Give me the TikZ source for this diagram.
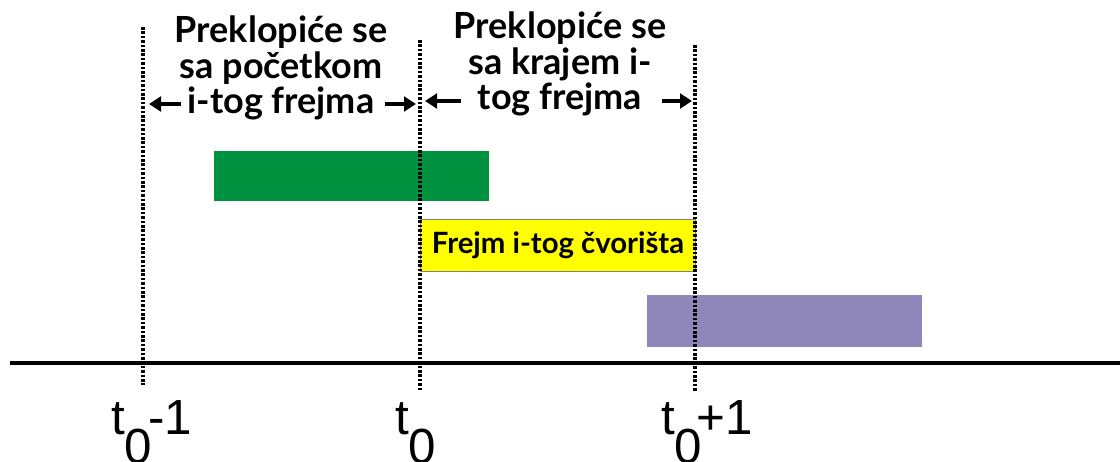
\documentclass[tikz,border=0pt]{standalone}
\usepackage{fontspec}
\setmainfont{Liberation Sans}
\newfontfamily\lblfont{Lato}
\usetikzlibrary{arrows.meta}
\definecolor{grn}{RGB}{0,146,63}
\definecolor{ylw}{RGB}{255,255,0}
\definecolor{prp}{RGB}{143,134,186}
\tikzset{
  dotline/.style={line width=2.6pt, dash pattern=on 2pt off 1.3pt, black},
  axisline/.style={line width=3pt, black},
  dimarrow/.style={line width=2.4pt, -{Triangle[length=9pt,width=11pt]}},
  lbl/.style={font=\lblfont\bfseries\fontsize{27}{26.6}\selectfont, align=center, inner sep=0pt},
  tlbl/.style={font=\fontsize{37}{42}\selectfont, inner sep=0pt, anchor=base west},
}
\newcommand{\subz}{\raisebox{-0.6em}{0}}
\begin{document}
\begin{tikzpicture}[x=0.75pt,y=-0.75pt]
\useasboundingbox (0,0) rectangle (1120,461);
% bars
\fill[grn] (214,151) rectangle (489,201);
\node[fill=ylw, draw=gray, line width=0.6pt, minimum width=206pt, minimum height=39pt, inner sep=0pt,
  font=\lblfont\bfseries\fontsize{22}{24}\selectfont] (frame) at (558,245.5) {Frejm i-tog čvorišta};
\fill[prp] (647,295) rectangle (922,347);
% axis
\coordinate (axL) at (10,363);
\coordinate (axR) at (1120,363);
\draw[axisline] (axL) -- (axR);
% dotted lines
\coordinate (d1t) at (143,27); \coordinate (d1b) at (143,385);
\coordinate (d2t) at (420,40); \coordinate (d2b) at (420,390);
\coordinate (d3t) at (695,45); \coordinate (d3b) at (695,392);
\draw[dotline] (d1t) -- (d1b);
\draw[dotline] (d2t) -- (d2b);
\draw[dotline] (d3t) -- (d3b);
% texts
\node[lbl] (txt1) at (281,68) {Preklopiće se\\sa početkom\\i-tog frejma};
\node[lbl] (txt2) at (560,64) {Preklopiće se\\sa krajem i-\\tog frejma};
% arrows
\coordinate (a1s) at (181,104); \coordinate (a1e) at (149,104);
\coordinate (a2s) at (385,104); \coordinate (a2e) at (416,104);
\coordinate (a3s) at (461,101); \coordinate (a3e) at (425,101);
\coordinate (a4s) at (662,101); \coordinate (a4e) at (692,101);
\draw[dimarrow] (a1s) -- (a1e);
\draw[dimarrow] (a2s) -- (a2e);
\draw[dimarrow] (a3s) -- (a3e);
\draw[dimarrow] (a4s) -- (a4e);
% time labels
\node[tlbl] (tm1) at (111,434) {t\subz\kern-0.08em-1};
\node[tlbl] (tz) at (395,434) {t\subz};
\node[tlbl] (tp1) at (661,434) {t\subz\kern-0.12em+1};
\end{tikzpicture}
\end{document}
